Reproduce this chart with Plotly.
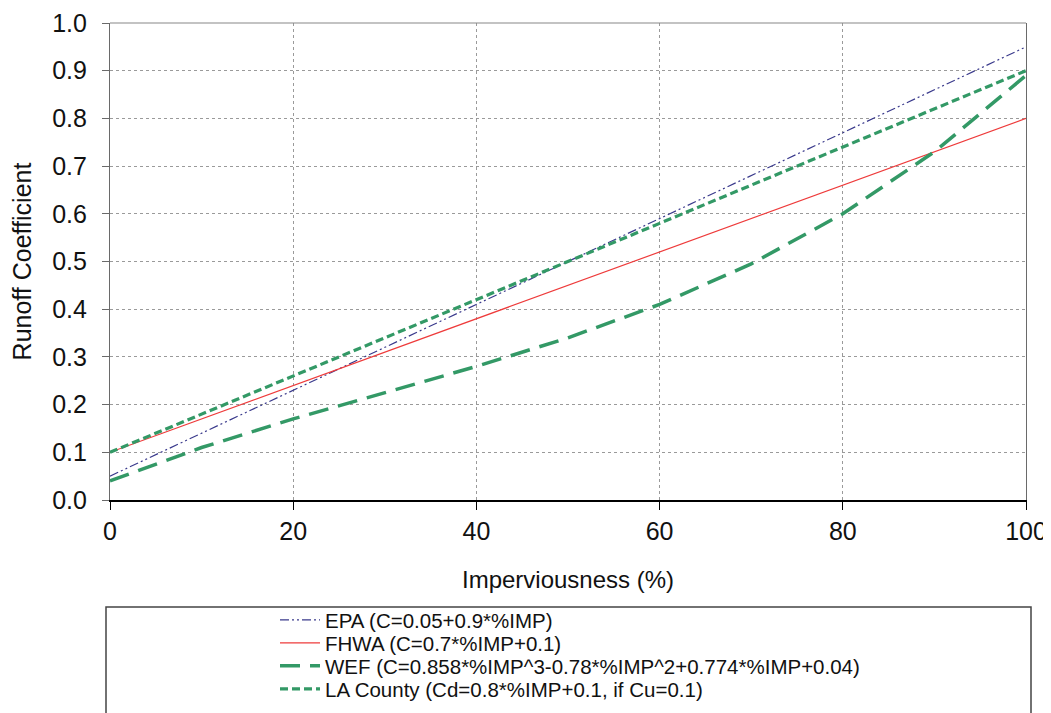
import plotly.graph_objects as go

# Data
imp_line = [0, 100]
epa = [0.05, 0.95]
fhwa = [0.10, 0.80]
la_county = [0.10, 0.90]
imp_wef = [0, 10, 20, 30, 40, 50, 60, 70, 80, 90, 100]
wef = [0.04, 0.11, 0.17, 0.225, 0.28, 0.34, 0.41, 0.495, 0.60, 0.73, 0.89]

names = [
    "EPA (C=0.05+0.9*%IMP)",
    "FHWA (C=0.7*%IMP+0.1)",
    "WEF (C=0.858*%IMP^3-0.78*%IMP^2+0.774*%IMP+0.04)",
    "LA County (Cd=0.8*%IMP+0.1, if Cu=0.1)",
]

FONT = "Liberation Sans, Arial, sans-serif"
GREEN = "#339966"
TXT = "#111111"

fig = go.Figure()
fig.add_trace(go.Scatter(x=imp_line, y=epa, mode="lines", name=names[0], legend="legend",
                         line=dict(color="#3a3a8c", width=1.2, dash="9px,3px,2px,3px,2px,3px")))
fig.add_trace(go.Scatter(x=imp_line, y=fhwa, mode="lines", name=names[1], legend="legend2",
                         line=dict(color="#ee3b3b", width=1.2)))
fig.add_trace(go.Scatter(x=imp_wef, y=wef, mode="lines", name=names[2], legend="legend3",
                         line=dict(color=GREEN, width=3.5, dash="20px,10px")))
fig.add_trace(go.Scatter(x=imp_line, y=la_county, mode="lines", name=names[3], legend="legend4",
                         line=dict(color=GREEN, width=3.2, dash="8px,4px")))

# page body adds an 8px offset; work in figure coordinates
OFF = 8
FIG_W, FIG_H = 1051 - OFF, 713 - OFF
PLOT_TOP, PLOT_BOTTOM, PLOT_LEFT, PLOT_RIGHT = 23 - OFF, 500 - OFF, 110 - OFF, 1026 - OFF
H = PLOT_BOTTOM - PLOT_TOP
W = PLOT_RIGHT - PLOT_LEFT
row_px = [r - OFF for r in (620, 643, 666, 689)]
legend_left_px = 275 - OFF


def legend_at(py):
    return dict(x=(legend_left_px - PLOT_LEFT) / W, xanchor="left",
                y=(PLOT_BOTTOM - py) / H, yanchor="middle",
                font=dict(family=FONT, size=20.5, color=TXT),
                bgcolor="rgba(0,0,0,0)", borderwidth=0, itemwidth=40)


fig.update_layout(
    width=FIG_W, height=FIG_H,
    margin=dict(l=PLOT_LEFT, r=FIG_W - PLOT_RIGHT, t=PLOT_TOP, b=FIG_H - PLOT_BOTTOM,
                autoexpand=False),
    paper_bgcolor="white", plot_bgcolor="white",
    font=dict(family=FONT, color=TXT),
    showlegend=True,
    legend=legend_at(row_px[0]),
    legend2=legend_at(row_px[1]),
    legend3=legend_at(row_px[2]),
    legend4=legend_at(row_px[3]),
    xaxis=dict(range=[0, 100], tickvals=[0, 20, 40, 60, 80, 100],
               showgrid=True, gridcolor="#9a9a9a", griddash="dot", gridwidth=1,
               showline=True, linecolor="#000000", linewidth=1.5,
               ticks="outside", ticklen=8, tickcolor="#000000", tickwidth=1,
               tickfont=dict(family=FONT, size=25, color=TXT),
               ticklabelstandoff=0,
               title=dict(text="Imperviousness (%)", standoff=27,
                          font=dict(family=FONT, size=24, color=TXT)),
               zeroline=False),
    yaxis=dict(range=[0, 1.0], tickvals=[i / 10 for i in range(11)],
               tickformat=".1f",
               showgrid=True, gridcolor="#9a9a9a", griddash="dot", gridwidth=1,
               showline=True, linecolor="#6a6a6a", linewidth=1.2, mirror=True,
               ticks="outside", ticklen=7, tickcolor="#6a6a6a", tickwidth=1,
               tickfont=dict(family=FONT, size=25, color=TXT),
               ticklabelstandoff=10,
               title=dict(text="Runoff Coefficient", standoff=15,
                          font=dict(family=FONT, size=25, color=TXT)),
               zeroline=False),
    shapes=[
        dict(type="line", xref="paper", yref="paper", x0=0, x1=1, y0=1, y1=1,
             line=dict(color="#888888", width=1.2)),
        dict(type="rect", xref="paper", yref="paper",
             x0=(106 - OFF - PLOT_LEFT) / W, x1=(1031 - OFF - PLOT_LEFT) / W,
             y0=(PLOT_BOTTOM - 740) / H, y1=(PLOT_BOTTOM - (607 - OFF)) / H,
             line=dict(color="#444444", width=1.5),
             fillcolor="rgba(0,0,0,0)", layer="below"),
    ],
)

fig.write_html("out.html")
